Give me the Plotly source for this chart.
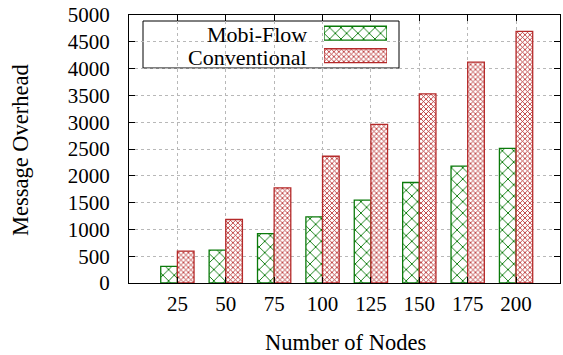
import plotly.graph_objects as go

# ---- data ----
nodes = [25, 50, 75, 100, 125, 150, 175, 200]
mobi_flow = [310, 615, 920, 1235, 1545, 1875, 2180, 2510]
conventional = [595, 1185, 1775, 2365, 2960, 3530, 4120, 4695]
series_names = ["Mobi-Flow", "Conventional"]
y_ticks = [0, 500, 1000, 1500, 2000, 2500, 3000, 3500, 4000, 4500, 5000]

GREEN = "#0b7a0b"
RED = "#b52a2a"
FONT = "Liberation Serif"
BW = 8.6

green_pat = dict(shape="x", fgcolor=GREEN, bgcolor="white", size=8, solidity=0.22, fgopacity=1)
red_pat = dict(shape="x", fgcolor=RED, bgcolor="white", size=3.5, solidity=0.42, fgopacity=1)

fig = go.Figure()
fig.add_trace(go.Bar(x=nodes, y=mobi_flow, width=BW, offset=-BW, name=series_names[0],
                     marker=dict(color="white", opacity=1, pattern=green_pat,
                                 line=dict(color=GREEN, width=1.3)),
                     showlegend=False))
fig.add_trace(go.Bar(x=nodes, y=conventional, width=BW, offset=0, name=series_names[1],
                     marker=dict(color="white", opacity=1, pattern=red_pat,
                                 line=dict(color=RED, width=1.3)),
                     showlegend=False))

# legend swatches drawn on a small overlay axis
fig.add_trace(go.Bar(x=[1], y=[1], orientation="h", width=0.62, xaxis="x2", yaxis="y2",
                     marker=dict(color="white", opacity=1, pattern=green_pat,
                                 line=dict(color=GREEN, width=1.3)),
                     showlegend=False, hoverinfo="skip"))
fig.add_trace(go.Bar(x=[1], y=[0], orientation="h", width=0.62, xaxis="x2", yaxis="y2",
                     marker=dict(color="white", opacity=1, pattern=red_pat,
                                 line=dict(color=RED, width=1.3)),
                     showlegend=False, hoverinfo="skip"))

L, R, T, B = 129, 3, 15, 72
W, H = 563, 355
pw, ph = W - L - R, H - T - B

def px_x(x):
    return (x - L) / pw

def px_y(y):
    return (H - B - y) / ph

axis_common = dict(showline=True, linecolor="black", linewidth=1, mirror="ticks",
                   ticks="inside", ticklen=6, tickcolor="black", automargin=False,
                   showgrid=True, gridcolor="#b8b8b8", griddash="dot", gridwidth=1,
                   zeroline=False, tickfont=dict(family=FONT, size=21, color="black"))

fig.update_layout(
    width=W, height=H,
    margin=dict(l=L, r=R, t=T, b=B),
    plot_bgcolor="white", paper_bgcolor="white",
    barmode="overlay",
    font=dict(family=FONT, size=21, color="black"),
    xaxis=dict(range=[0, 222.7], tickvals=nodes, ticklabelstandoff=2, **axis_common),
    yaxis=dict(range=[0, 5000], tickvals=y_ticks, ticklabelstandoff=14, **axis_common),
    xaxis2=dict(domain=[px_x(324), px_x(387)], range=[0, 1], visible=False,
                anchor="y2", fixedrange=True),
    yaxis2=dict(domain=[px_y(67), px_y(22)], range=[-0.5, 1.5], visible=False,
                anchor="x2", fixedrange=True),
    shapes=[dict(type="rect", xref="paper", yref="paper",
                 x0=px_x(143), x1=px_x(399), y0=px_y(68), y1=px_y(21),
                 fillcolor="white", line=dict(color="black", width=1), layer="between")],
    annotations=[
        dict(text=series_names[0], xref="paper", yref="paper", x=px_x(309), y=px_y(34),
             xanchor="right", yanchor="middle", showarrow=False,
             font=dict(family=FONT, size=22, color="black")),
        dict(text=series_names[1], xref="paper", yref="paper", x=px_x(309), y=px_y(57),
             xanchor="right", yanchor="middle", showarrow=False,
             font=dict(family=FONT, size=22, color="black")),
        dict(text="Number of Nodes", xref="paper", yref="paper", x=px_x(345), y=px_y(342),
             xanchor="center", yanchor="middle", showarrow=False,
             font=dict(family=FONT, size=22.5, color="black")),
        dict(text="Message Overhead", xref="paper", yref="paper", x=px_x(20), y=px_y(150),
             xanchor="center", yanchor="middle", showarrow=False, textangle=-90,
             font=dict(family=FONT, size=22.5, color="black")),
    ],
)

fig.write_html("out.html", config={"displayModeBar": False},
               post_script="document.body.style.margin='0';")
